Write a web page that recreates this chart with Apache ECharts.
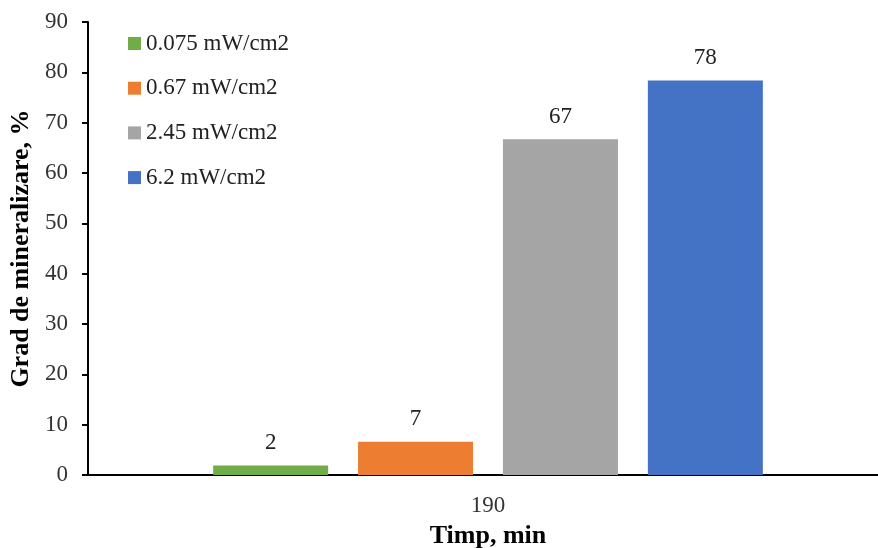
<!DOCTYPE html>
<html>
<head>
<meta charset="utf-8">
<script src="https://cdn.jsdelivr.net/npm/echarts@6/dist/echarts.min.js"></script>
<style>
html,body{margin:0;padding:0;background:#fff;}
#chart{width:878px;height:548px;}
</style>
</head>
<body>
<div id="chart"></div>
<script>
const categories = ['190'];
const seriesNames = ['0.075 mW/cm2', '0.67 mW/cm2', '2.45 mW/cm2', '6.2 mW/cm2'];
const values0075 = [1.9];
const values067 = [6.6];
const values245 = [66.7];
const values62 = [78.4];
const yTicks = [0, 10, 20, 30, 40, 50, 60, 70, 80, 90];
const colors = ['#70AD47', '#ED7D31', '#A5A5A5', '#4472C4'];

const seriesValues = [values0075, values067, values245, values62];
const font = 'Liberation Serif, Times New Roman, serif';

const chart = echarts.init(document.getElementById('chart'));
chart.setOption({
  animation: false,
  grid: { left: 88, right: -10, top: 22, bottom: 73, containLabel: false, outerBoundsMode: 'none' },
  legend: {
    orient: 'vertical',
    left: 123,
    top: 27,
    itemWidth: 13,
    itemHeight: 13,
    itemGap: 21.7,
    icon: 'rect',
    textStyle: { fontFamily: font, fontSize: 23, color: '#222' },
    data: seriesNames
  },
  xAxis: {
    type: 'category',
    data: categories,
    name: 'Timp, min',
    nameLocation: 'middle',
    nameGap: 48,
    nameTextStyle: { fontFamily: font, fontSize: 26, fontWeight: 'bold', color: '#000' },
    axisLine: { lineStyle: { color: '#000', width: 2 } },
    axisTick: { alignWithLabel: true, length: 6, lineStyle: { color: '#000', width: 2 } },
    axisLabel: { fontFamily: font, fontSize: 23, color: '#333', margin: 19 }
  },
  yAxis: {
    type: 'value',
    min: yTicks[0],
    max: yTicks[yTicks.length - 1],
    interval: 10,
    name: 'Grad de mineralizare, %',
    nameLocation: 'middle',
    nameGap: 52,
    nameTextStyle: { fontFamily: font, fontSize: 26, fontWeight: 'bold', color: '#000' },
    axisLine: { show: true, lineStyle: { color: '#000', width: 2 } },
    axisTick: { show: true, length: 6, lineStyle: { color: '#000', width: 2 } },
    axisLabel: { fontFamily: font, fontSize: 23, color: '#333', margin: 20 },
    splitLine: { show: false }
  },
  series: seriesNames.map((n, i) => ({
    name: n,
    type: 'bar',
    data: seriesValues[i],
    barWidth: 115,
    barGap: '26%',
    itemStyle: { color: colors[i] },
    label: {
      show: true,
      position: 'top',
      distance: 11,
      fontFamily: font,
      fontSize: 23,
      color: '#222',
      formatter: p => Math.round(p.value).toString()
    }
  }))
});
</script>
</body>
</html>
